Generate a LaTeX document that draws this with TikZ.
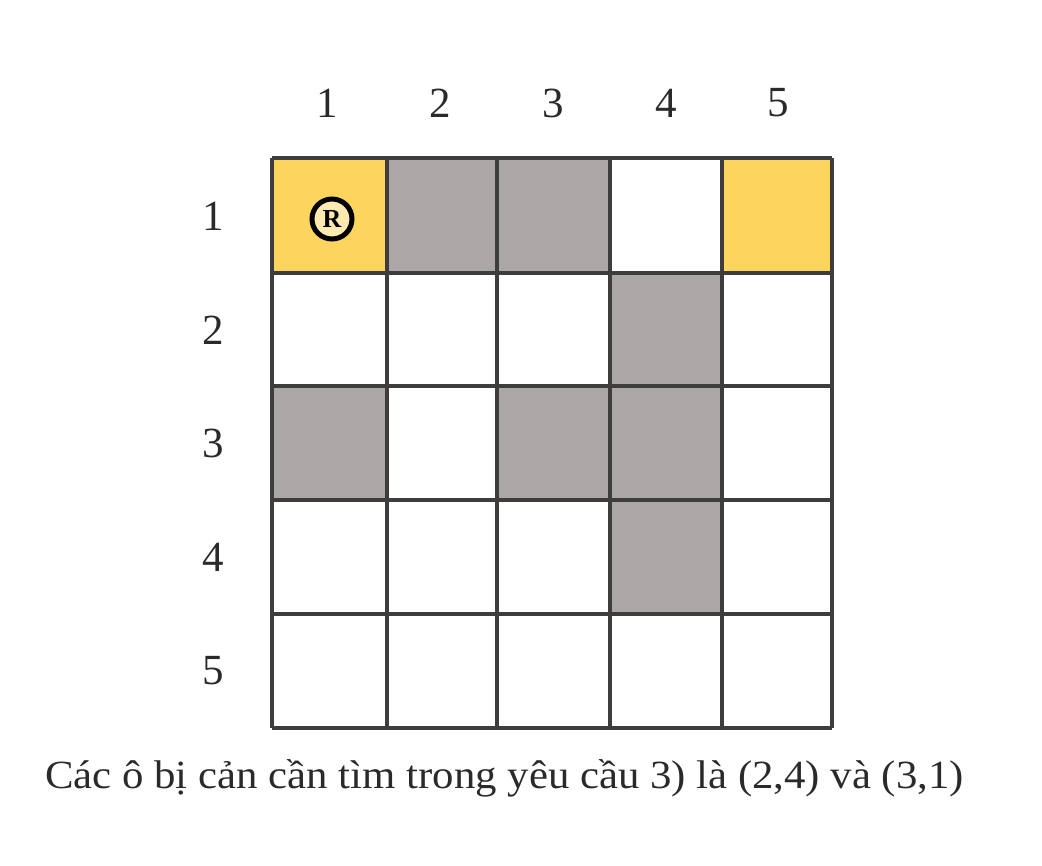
\documentclass[tikz,border=0pt]{standalone}
\usepackage{fontspec}
\setmainfont{Liberation Serif}
\definecolor{cellyellow}{HTML}{FDD55E}
\definecolor{cellgray}{HTML}{AAA7A6}
\definecolor{gridline}{HTML}{3F3D3B}
\definecolor{textgray}{HTML}{2A2A2A}
\tikzset{
  cell/.style={draw=gridline, line width=3.4pt},
  lbl/.style={font=\fontsize{43}{46}\selectfont, text=textgray, inner sep=0pt},
  robot/.style={circle, draw=black, line width=5pt, fill=cellyellow!50!white, minimum size=40pt, inner sep=0pt, font=\bfseries\fontsize{26}{26}\selectfont}
}
\begin{document}
\begin{tikzpicture}[x=1pt,y=-1pt]
\useasboundingbox (0,0) rectangle (1042,866);
% fills
\fill[cellyellow] (272,158) rectangle (387,273);
\fill[cellyellow] (722,158) rectangle (832,273);
\fill[cellgray] (387,158) rectangle (497,273);
\fill[cellgray] (497,158) rectangle (610,273);
\fill[cellgray] (610,273) rectangle (722,386);
\fill[cellgray] (272,386) rectangle (387,500);
\fill[cellgray] (497,386) rectangle (610,500);
\fill[cellgray] (610,386) rectangle (722,500);
\fill[cellgray] (610,500) rectangle (722,614);
% grid lines
\foreach \x in {272,387,497,610,722,832} \draw[cell] (\x,158) -- (\x,728);
\foreach \y in {158,273,386,500,614,728} \draw[cell] (272,\y) -- (832,\y);
% column labels
\node[lbl] (c1) at (327,103) {1};
\node[lbl] (c2) at (440,103) {2};
\node[lbl] (c3) at (553,103) {3};
\node[lbl] (c4) at (666,103) {4};
\node[lbl] (c5) at (778,103) {5};
% row labels
\node[lbl] (r1) at (213,216) {1};
\node[lbl] (r2) at (213,330) {2};
\node[lbl] (r3) at (213,443) {3};
\node[lbl] (r4) at (213,557) {4};
\node[lbl] (r5) at (213,671) {5};
% robot symbol
\node[robot] (rb) at (332,219) {R};
% caption
\node[font=\fontsize{40}{44}\selectfont, text=textgray, inner sep=0pt, anchor=west, xscale=1.07] (cap) at (45,778) {Các ô bị cản cần tìm trong yêu cầu 3) là (2,4) và (3,1)};
\end{tikzpicture}
\end{document}
